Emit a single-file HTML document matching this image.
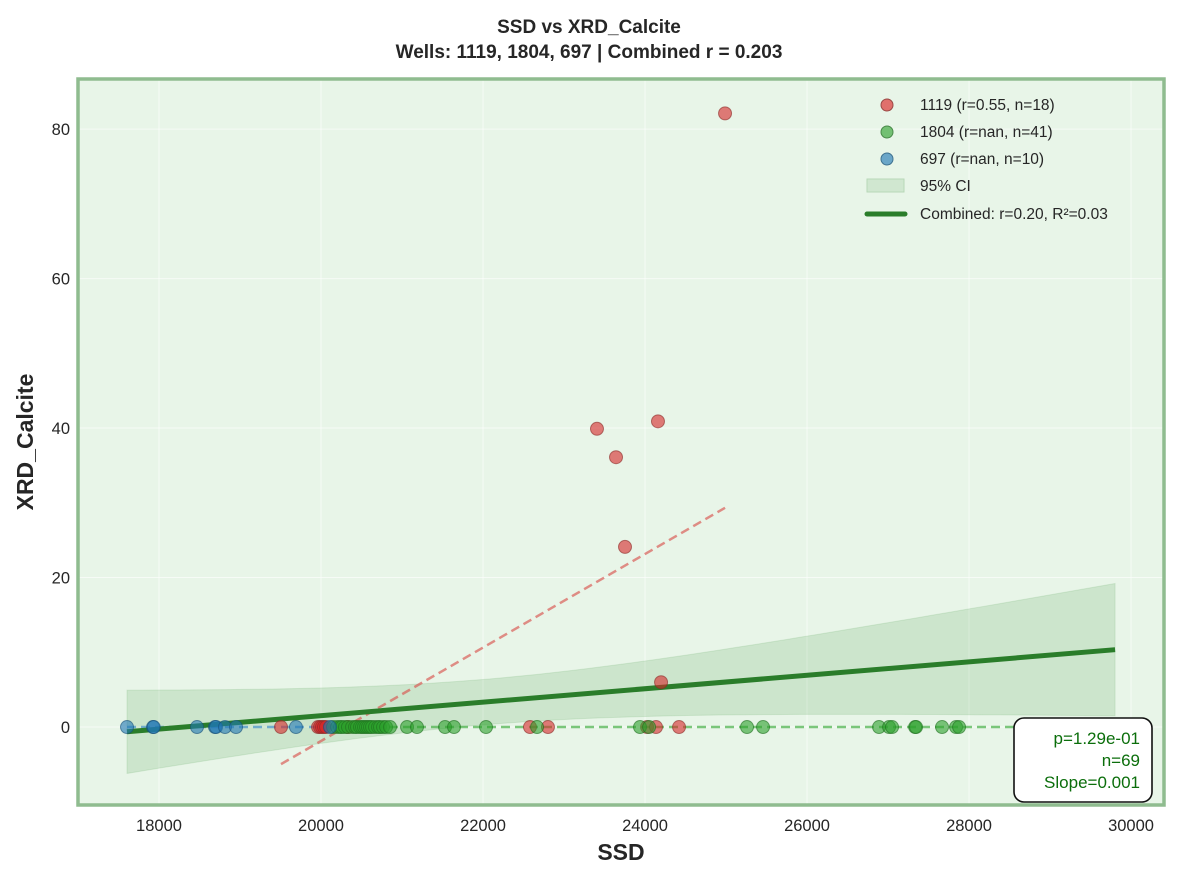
<!DOCTYPE html>
<html><head><meta charset="utf-8"><style>
body{margin:0;background:#fff;}
svg{display:block;font-family:"Liberation Sans",Arial,sans-serif;}
</style></head><body>
<svg id="chart" width="1178" height="880" viewBox="0 0 1178 880" xmlns="http://www.w3.org/2000/svg">
<text x="589" y="33" text-anchor="middle" font-size="19" font-weight="bold" fill="#262626">SSD vs XRD_Calcite</text>
<text x="589" y="58" text-anchor="middle" font-size="19" font-weight="bold" fill="#262626">Wells: 1119, 1804, 697 | Combined r = 0.203</text>
<rect x="78" y="79" width="1086" height="726" fill="#e8f5e8"/>
<g id="grid"></g>
<g id="band"></g>
<g id="lines"></g>
<g id="points"></g>
<rect x="78" y="79" width="1086" height="726" fill="none" stroke="#8fbc8f" stroke-width="3.5"/>
<g id="ticks"></g>
<text x="621" y="860" text-anchor="middle" font-size="23" font-weight="bold" fill="#262626">SSD</text>
<text transform="translate(33,442) rotate(-90)" text-anchor="middle" font-size="23" font-weight="bold" fill="#262626">XRD_Calcite</text>
<g font-size="15.5" fill="#262626">
<circle cx="887" cy="105" r="6" fill="#e0706c" stroke="#9a4a46" stroke-width="1"/>
<text x="920" y="110">1119 (r=0.55, n=18)</text>
<circle cx="887" cy="132" r="6" fill="#73c073" stroke="#4a8a4a" stroke-width="1"/>
<text x="920" y="137">1804 (r=nan, n=41)</text>
<circle cx="887" cy="159" r="6" fill="#6aa6c8" stroke="#3f7290" stroke-width="1"/>
<text x="920" y="164">697 (r=nan, n=10)</text>
<rect x="867" y="179" width="37" height="13" fill="#d0e7d0" stroke="#b7d8b7"/>
<text x="920" y="191">95% CI</text>
<line x1="867" y1="214" x2="905" y2="214" stroke="#2a7d2a" stroke-width="5" stroke-linecap="round"/>
<text x="920" y="219">Combined: r=0.20, R²=0.03</text>
</g>
<g>
<rect x="1014" y="718" width="138" height="84" rx="10" fill="#fff" stroke="#111" stroke-width="1.6"/>
<text x="1140" y="744" text-anchor="end" font-size="17" fill="#0b6e0b">p=1.29e-01</text>
<text x="1140" y="766" text-anchor="end" font-size="17" fill="#0b6e0b">n=69</text>
<text x="1140" y="788" text-anchor="end" font-size="17" fill="#0b6e0b">Slope=0.001</text>
</g>
</svg>
<script>
const xTicks = [18000, 20000, 22000, 24000, 26000, 28000, 30000];
const yTicks = [0, 20, 40, 60, 80];
const ssd1119 = [19506,19963,19988,20012,20037,20062,20333,22580,22802,24025,24136,24420,23407,23642,23753,24160,24198,24988];
const cal1119 = [0,0,0,0,0,0,0,0,0,0,0,0,39.9,36.1,24.1,40.9,6.0,82.1];
const ssd1804 = [20148,20198,20235,20259,20296,20333,20383,20420,20444,20482,20506,20531,20556,20580,20605,20630,20667,20704,20728,20766,20803,20852,21062,21185,21531,21642,22037,22667,23938,24050,25259,25457,26889,27013,27050,27334,27346,27667,27840,27877,29803];
const cal1804 = ssd1804.map(()=>0);
const ssd697 = [17605,17926,17935,18469,18691,18704,18815,18951,19691,20111];
const cal697 = [0,0,0,0,0,0,0,0,0,0];

const X0=78,X1=1164,Y0=79,Y1=805;
const xMin=17000,xMax=30407,yMin=-10.43,yMax=86.7;
const sx=v=>X0+(v-xMin)/(xMax-xMin)*(X1-X0);
const sy=v=>Y1-(v-yMin)/(yMax-yMin)*(Y1-Y0);
const NS="http://www.w3.org/2000/svg";
function mk(tag,parent,attrs){const e=document.createElementNS(NS,tag);for(const k in attrs)e.setAttribute(k,attrs[k]);document.getElementById(parent).appendChild(e);return e;}

xTicks.forEach(t=>{
  const g=mk('line','grid',{x1:sx(t),x2:sx(t),y1:Y0,y2:Y1,stroke:'#ffffff','stroke-width':1,'stroke-opacity':0.6});
  
  
  const l=mk('text','ticks',{x:sx(t),y:831,'text-anchor':'middle','font-size':16.5,fill:'#262626'});
  
  
  l.textContent=t;
});
yTicks.forEach(t=>{
  const g=mk('line','grid',{x1:X0,x2:X1,y1:sy(t),y2:sy(t),stroke:'#ffffff','stroke-width':1,'stroke-opacity':0.6});
  
  
  const l=mk('text','ticks',{x:70,y:sy(t)+6,'text-anchor':'end','font-size':16.5,fill:'#262626'});
  
  
  l.textContent=t;
});

function fit(xs,ys){
  const n=xs.length,mx=xs.reduce((a,b)=>a+b)/n,my=ys.reduce((a,b)=>a+b)/n;
  let sxx=0,sxy=0;for(let i=0;i<n;i++){sxx+=(xs[i]-mx)**2;sxy+=(xs[i]-mx)*(ys[i]-my);}
  const b=sxx?sxy/sxx:0,a=my-b*mx;let sse=0;for(let i=0;i<n;i++)sse+=(ys[i]-a-b*xs[i])**2;
  return {a,b,mx,sxx,n,s:Math.sqrt(sse/Math.max(n-2,1)),lo:Math.min(...xs),hi:Math.max(...xs)};
}
const allX=[...ssd1119,...ssd1804,...ssd697],allY=[...cal1119,...cal1804,...cal697];
const F=fit(allX,allY);
let up=[],dn=[];
for(let i=0;i<=60;i++){const x=F.lo+(F.hi-F.lo)*i/60;const y=F.a+F.b*x;const se=F.s*Math.sqrt(1/F.n+(x-F.mx)**2/F.sxx);up.push([sx(x),sy(y+1.996*se)]);dn.push([sx(x),sy(y-1.996*se)]);}
const pts=up.concat(dn.reverse()).map(p=>p.join(',')).join(' ');
const band=mk('polygon','band',{points:pts,fill:'#2e8b2e','fill-opacity':0.15,stroke:'#2e8b2e','stroke-opacity':0.12});



const groups=[
 {name:'1119',xs:ssd1119,ys:cal1119,fill:'#d62728',edge:'#8b2a26',line:'#d9534f'},
 {name:'1804',xs:ssd1804,ys:cal1804,fill:'#2ca02c',edge:'#1e6e1e',line:'#3aaa3a'},
 {name:'697',xs:ssd697,ys:cal697,fill:'#1f77b4',edge:'#154f78',line:'#3a8cc8'}
];
groups.forEach(g=>{
  const f=fit(g.xs,g.ys);
  const ln=mk('line','lines',{x1:sx(f.lo),y1:sy(f.a+f.b*f.lo),x2:sx(f.hi),y2:sy(f.a+f.b*f.hi),stroke:g.line,'stroke-width':2.5,'stroke-dasharray':'9,5','stroke-opacity':0.65});
  
  
});
const cl=mk('line','lines',{x1:sx(F.lo),y1:sy(F.a+F.b*F.lo),x2:sx(F.hi),y2:sy(F.a+F.b*F.hi),stroke:'#2a7d2a','stroke-width':5,'stroke-linecap':'butt'});


groups.forEach(g=>{
  g.xs.forEach((x,i)=>{
    const c=mk('circle','points',{cx:sx(x),cy:sy(g.ys[i]),r:6.5,fill:g.fill,'fill-opacity':0.6,stroke:g.edge,'stroke-opacity':0.6,'stroke-width':1});
    
    
  });
});
</script>
</body></html>
